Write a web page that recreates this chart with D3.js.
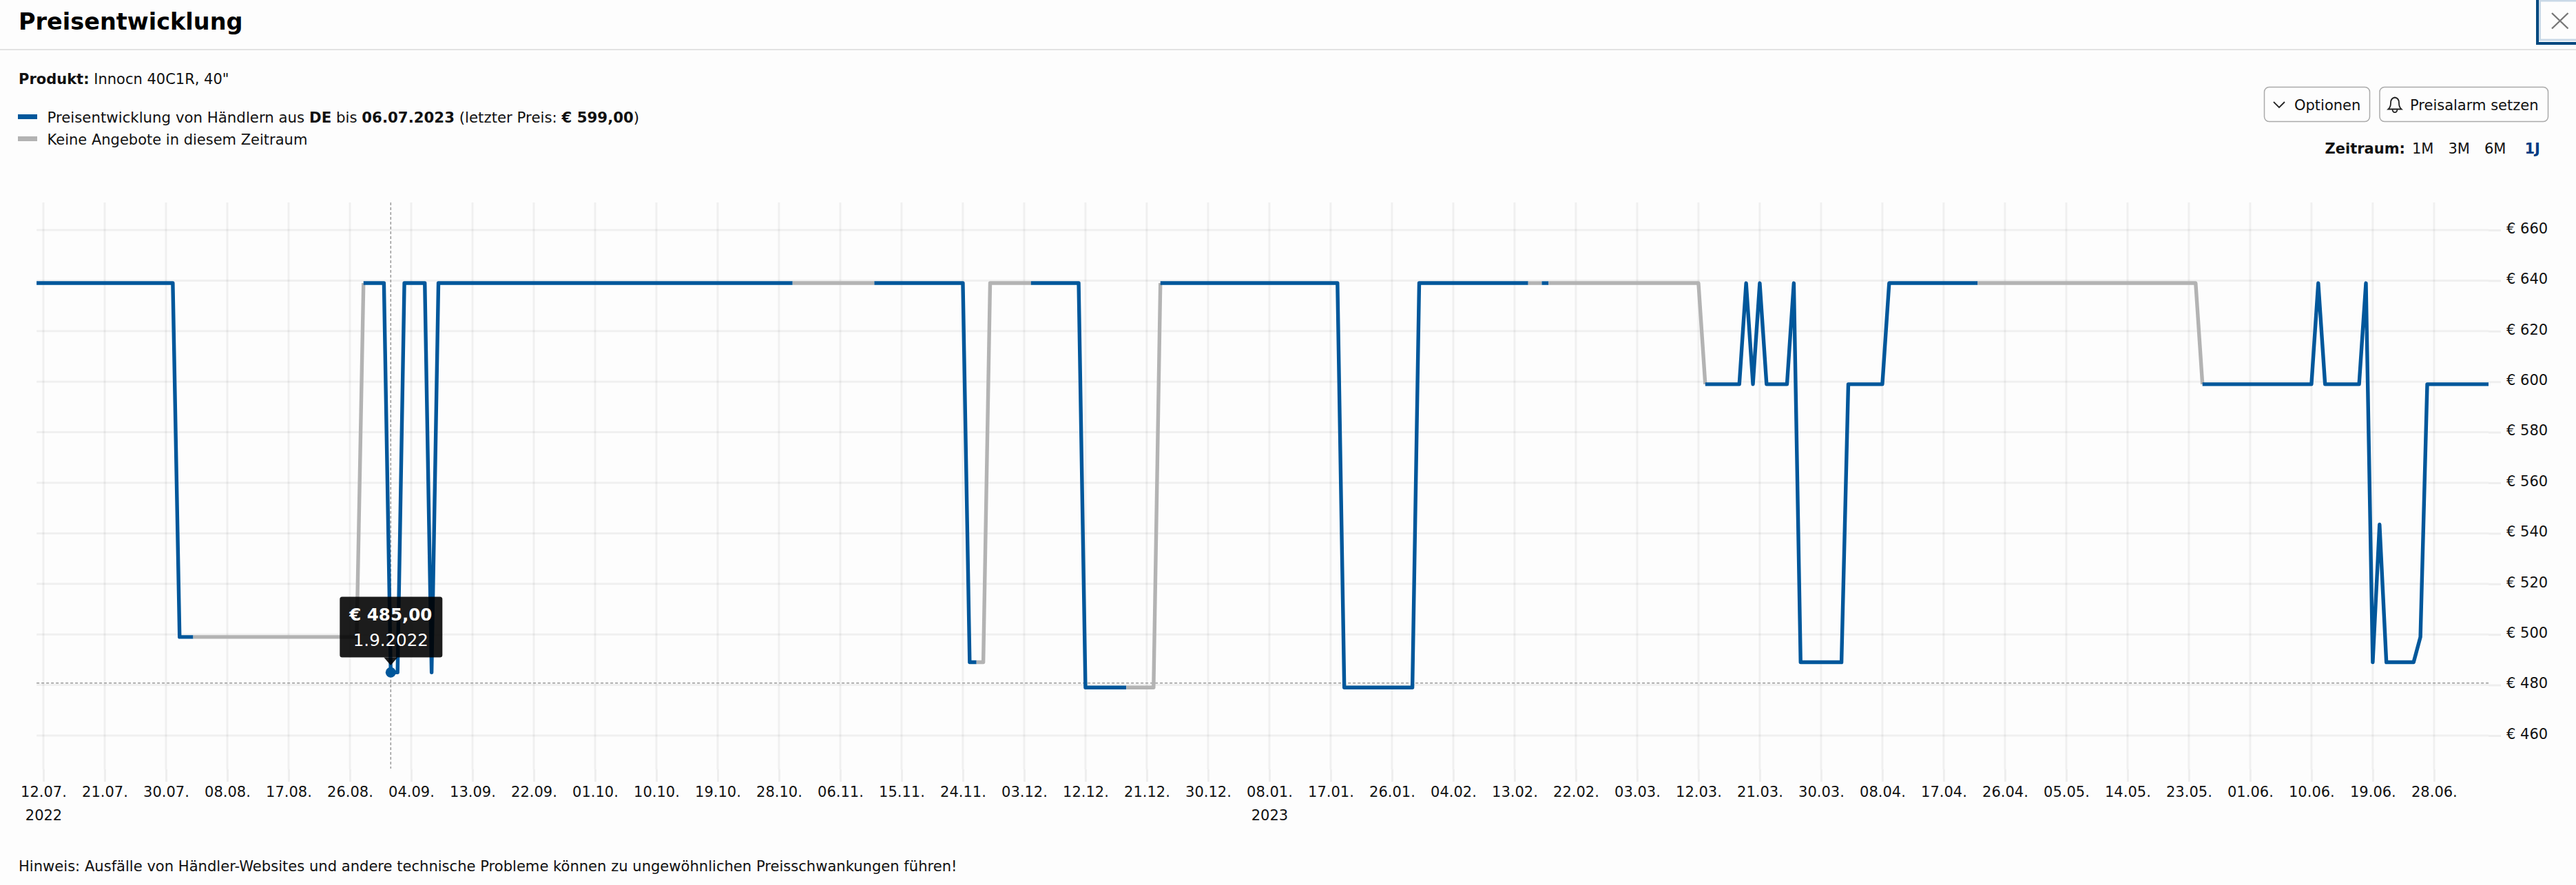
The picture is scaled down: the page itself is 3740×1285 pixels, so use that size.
<!DOCTYPE html>
<html>
<head>
<meta charset="utf-8">
<title>Preisentwicklung</title>
<script src="https://cdn.jsdelivr.net/npm/d3@7"></script>
<style>
    html, body { margin: 0; padding: 0; background: #fdfdfd; overflow: hidden; }
    svg { display: block; font-family: "DejaVu Sans", sans-serif; fill: #111; }
    text { font-size: 21px; }
    .tick text { font-size: 21px; fill: #111; font-family: "DejaVu Sans", sans-serif; }
</style>
</head>
<body>
<svg id="chart" width="3740" height="1285"></svg>
<script>
// days counted from the first axis tick (12.07.2022)
const startDate = new Date(Date.UTC(2022, 6, 12));
const priceDays = [-1, 19, 20, 22, 46, 47, 50, 51, 52, 53, 56, 57, 58, 110, 122, 135, 136, 137, 138, 139, 145, 152, 153,
    159, 163, 164, 190, 191, 201, 202, 218, 220, 221, 243, 244, 249, 250, 251, 252, 253, 256, 257, 258, 264, 265, 270,
    271, 284, 316, 317, 333, 334, 335, 340, 341, 342, 343, 344, 348, 349, 350, 359];
const prices = [639, 639, 499, 499, 499, 639, 639, 485, 485, 639, 639, 485, 639, 639, 639, 639, 489, 489, 489, 639, 639, 639, 479,
    479, 479, 639, 639, 479, 479, 639, 639, 639, 639, 639, 599, 599, 639, 599, 639, 599, 599, 639, 489, 489, 599, 599,
    639, 639, 639, 599, 599, 639, 599, 599, 639, 489, 543.5, 489, 489, 499, 599, 599];
// ranges of days without offers, drawn grey
const noOfferRanges = [[22, 47], [110, 122], [137, 145], [159, 164], [218, 220], [221, 244], [284, 317]];

const priceTicks = [460, 480, 500, 520, 540, 560, 580, 600, 620, 640, 660];
const tickStepDays = 9;
const tickCount = 40;
const yearLabels = { 0: "2022", 180: "2023" };

const hoverDay = 51;
const hoverPrice = 485;
const hoverLabel = "€ 485,00";
const hoverDateLabel = "1.9.2022";
const crosshairPrice = 480.8;

const blue = "#00579b";
const grey = "#b3b3b3";
const plotTop = 294, plotBottom = 1117;

const dayToDate = d => d3.utcDay.offset(startDate, d);

const x = d3.scaleUtc()
    .domain([dayToDate(-1), dayToDate(359)])
    .range([53.1, 3613]);
const y = d3.scaleLinear()
    .domain([460, 660])
    .range([1068, 334]);

const svg = d3.select("#chart");

// page background
svg.append("rect").attr("width", 3740).attr("height", 1285).attr("fill", "#fdfdfd");

// header
svg.append("text").attr("x", 27).attr("y", 43).attr("font-weight", "bold").style("font-size", "33.5px").style("fill", "#000")
    .text("Preisentwicklung");
svg.append("line").attr("x1", 0).attr("x2", 3740).attr("y1", 72).attr("y2", 72)
    .attr("stroke", "#e2e2e2").attr("stroke-width", 2);

// close button with focus ring
svg.append("rect").attr("x", 3684).attr("y", -2).attr("width", 70).attr("height", 65)
    .attr("fill", "none").attr("stroke", "#00487f").attr("stroke-width", 4);
svg.append("rect").attr("x", 3687.5).attr("y", 1).attr("width", 70).attr("height", 57)
    .attr("fill", "none").attr("stroke", "#c9d9e7").attr("stroke-width", 3);
svg.append("path").attr("d", "M3705,19L3728.5,41.5M3728.5,19L3705,41.5")
    .attr("stroke", "#777").attr("stroke-width", 2.4).attr("fill", "none");

// product + legend
const product = svg.append("text").attr("x", 27).attr("y", 121.5);
product.append("tspan").attr("font-weight", "bold").text("Produkt:");
product.append("tspan").text(" Innocn 40C1R, 40\"");

svg.append("rect").attr("x", 26).attr("y", 166).attr("width", 28).attr("height", 7).attr("fill", blue);
svg.append("rect").attr("x", 26).attr("y", 198).attr("width", 28).attr("height", 7).attr("fill", grey);

const legend1 = svg.append("text").attr("x", 68.5).attr("y", 178).style("font-size", "21.3px");
[["Preisentwicklung von Händlern aus ", false], ["DE", true], [" bis ", false], ["06.07.2023", true],
    [" (letzter Preis: ", false], ["€ 599,00", true], [")", false]].forEach(function(p) {
    legend1.append("tspan").attr("font-weight", p[1] ? "bold" : "normal").text(p[0]);
});
svg.append("text").attr("x", 68.5).attr("y", 209.5).text("Keine Angebote in diesem Zeitraum");

// buttons
svg.selectAll("rect.btn").data([[3287.5, 153], [3455, 244.5]]).enter().append("rect")
    .classed("btn", true)
    .attr("x", d => d[0]).attr("y", 126.5).attr("width", d => d[1]).attr("height", 50).attr("rx", 7)
    .attr("fill", "#fdfdfd").attr("stroke", "#aaa").attr("stroke-width", 1.5);
svg.append("path").attr("d", "M3301,148L3309,156L3317,148").attr("fill", "none").attr("stroke", "#222").attr("stroke-width", 1.8);
svg.append("text").attr("x", 3331).attr("y", 160).text("Optionen");
svg.append("path")
    .attr("d", "M3467.5,158.5C3470.5,156 3471,153 3471,149.5C3471,145 3473.5,142 3477,141.5C3480.5,142 3483,145 3483,149.5C3483,153 3483.5,156 3486.5,158.5ZM3473.5,159C3474,164.5 3480,164.5 3480.5,159")
    .attr("fill", "none").attr("stroke", "#222").attr("stroke-width", 1.8);
svg.append("text").attr("x", 3499).attr("y", 160).text("Preisalarm setzen");

// range selector
svg.append("text").attr("x", 3375.5).attr("y", 222.5).attr("font-weight", "bold").text("Zeitraum:");
svg.append("text").attr("x", 3502).attr("y", 222.5).text("1M");
svg.append("text").attr("x", 3554.5).attr("y", 222.5).text("3M");
svg.append("text").attr("x", 3607).attr("y", 222.5).text("6M");
svg.append("text").attr("x", 3665.5).attr("y", 222.5).attr("font-weight", "bold").style("fill", "#003b82").text("1J");

// grid
const tickDates = d3.range(tickCount).map(i => dayToDate(i * tickStepDays));
const grid = svg.append("g").attr("stroke", "#000").attr("stroke-opacity", 0.05).attr("stroke-width", 3);
grid.selectAll("line.v").data(tickDates).enter().append("line")
    .classed("v", true)
    .attr("x1", d => x(d)).attr("x2", d => x(d))
    .attr("y1", plotTop).attr("y2", plotBottom);
grid.selectAll("line.h").data(priceTicks).enter().append("line")
    .classed("h", true)
    .attr("x1", x.range()[0]).attr("x2", x.range()[1])
    .attr("y1", d => y(d)).attr("y2", d => y(d));

// axes
const xAxis = svg.append("g").attr("transform", "translate(0," + plotBottom + ")")
    .call(d3.axisBottom(x).tickValues(tickDates).tickFormat(d3.utcFormat("%d.%m.")).tickSize(18).tickPadding(7));
const yAxis = svg.append("g").attr("transform", "translate(" + x.range()[1] + ",0)")
    .call(d3.axisRight(y).tickValues(priceTicks).tickFormat(d => "€ " + d).tickSize(18).tickPadding(8));
[xAxis, yAxis].forEach(function(a) {
    a.select(".domain").remove();
    a.selectAll(".tick line").attr("stroke", "#000").attr("stroke-opacity", 0.06).attr("stroke-width", 3);
});
yAxis.selectAll(".tick text").attr("dy", "0.2em");
xAxis.selectAll(".tick").each(function(d, i) {
    const label = yearLabels[i * tickStepDays];
    if (label) {
        d3.select(this).append("text")
            .attr("y", 73.5).attr("text-anchor", "middle").attr("fill", "#111")
            .text(label);
    }
});

// crosshair
const crosshair = svg.append("g").attr("stroke", "#999").attr("stroke-width", 1.5).attr("stroke-dasharray", "4,3");
crosshair.append("line")
    .attr("x1", x(dayToDate(hoverDay))).attr("x2", x(dayToDate(hoverDay)))
    .attr("y1", plotTop).attr("y2", plotBottom - 1);
crosshair.append("line")
    .attr("x1", x.range()[0]).attr("x2", x.range()[1])
    .attr("y1", y(crosshairPrice)).attr("y2", y(crosshairPrice));

// price line, split into offer / no-offer runs
const points = priceDays.map((d, i) => ({ day: d, date: dayToDate(d), price: prices[i] }));
const isGrey = (a, b) => noOfferRanges.some(r => a.day >= r[0] && b.day <= r[1]);
const runs = [];
points.slice(1).forEach(function(p, i) {
    const prev = points[i];
    const g = isGrey(prev, p);
    const last = runs[runs.length - 1];
    if (last && last.grey === g) {
        last.points.push(p);
    } else {
        runs.push({ grey: g, points: [prev, p] });
    }
});
const line = d3.line().x(d => x(d.date)).y(d => y(d.price));
svg.append("g").selectAll("path").data(runs).enter().append("path")
    .attr("d", d => line(d.points))
    .attr("fill", "none")
    .attr("stroke", d => d.grey ? grey : blue)
    .attr("stroke-width", 5.4)
    .attr("stroke-linejoin", "round");

// hovered point + tooltip
const hx = x(dayToDate(hoverDay)), hy = y(hoverPrice);
svg.append("circle").attr("cx", hx).attr("cy", hy).attr("r", 7.5).attr("fill", blue);
const tip = svg.append("g").attr("transform", "translate(" + hx + ",0)");
tip.append("rect").attr("x", -74).attr("y", 866.5).attr("width", 149).attr("height", 88).attr("rx", 3.5)
    .attr("fill", "#000").attr("fill-opacity", 0.89);
tip.append("path").attr("d", "M-10,954.5L10,954.5L0,966Z").attr("fill", "#000").attr("fill-opacity", 0.89);
tip.append("text").attr("y", 900.5).attr("text-anchor", "middle").attr("font-weight", "bold")
    .style("font-size", "24.5px").style("fill", "#fff").text(hoverLabel);
tip.append("text").attr("y", 938).attr("text-anchor", "middle")
    .style("font-size", "24.5px").style("fill", "#fff").text(hoverDateLabel);

// footnote
svg.append("text").attr("x", 27).attr("y", 1265).style("font-size", "21.08px")
    .text("Hinweis: Ausfälle von Händler-Websites und andere technische Probleme können zu ungewöhnlichen Preisschwankungen führen!");
</script>
</body>
</html>
